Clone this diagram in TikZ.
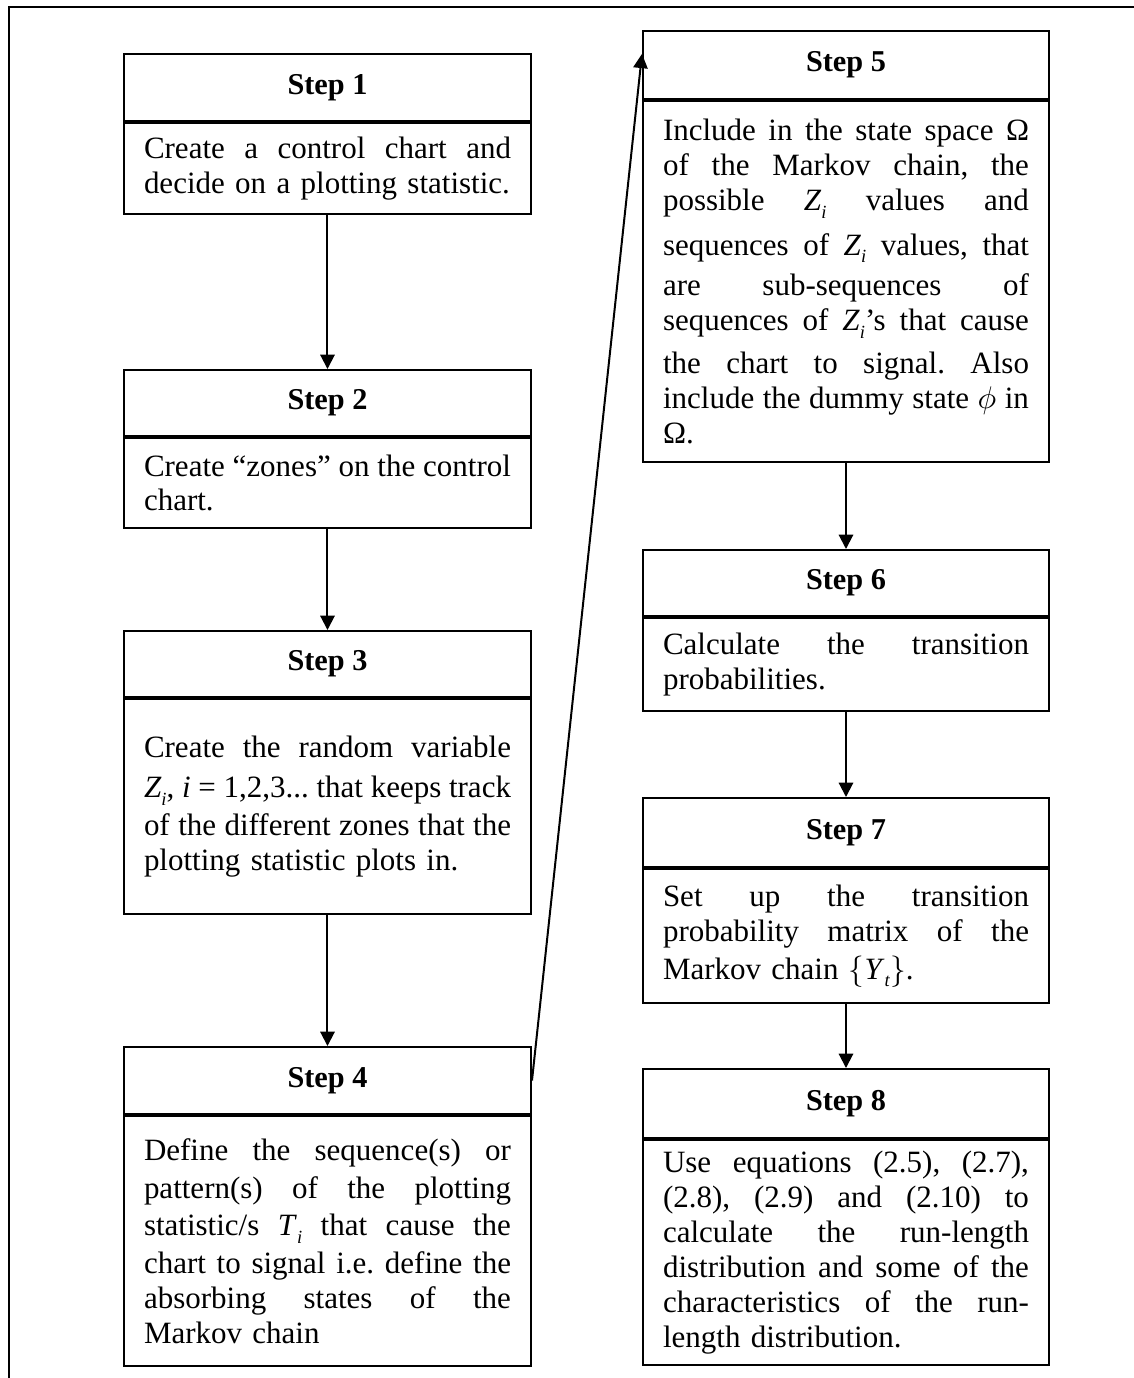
\documentclass[tikz,border=0pt]{standalone}
\usepackage{fontspec}
\setmainfont{Liberation Serif}
\usetikzlibrary{arrows.meta,calc}
\frenchspacing
\newcommand{\jl}[1]{\noindent\hbox to \hsize{\spaceskip=0.25em plus 1em minus 0.06em\relax #1}}
\newcommand{\Zsub}[2]{\textit{#1}\raisebox{-0.55ex}{\fontsize{6.5}{6.5}\selectfont\textit{#2}}}
\begin{document}
\begin{tikzpicture}[x=0.35pt,y=-0.35pt,
  every node/.style={font=\fontsize{10.85}{12.2}\selectfont},
  frame/.style={line width=0.7pt},
  titlebox/.style={draw, line width=0.7pt, minimum width=142.45pt, anchor=north west, inner sep=0pt, font=\fontsize{10.6}{12.2}\selectfont\bfseries},
  bodybox/.style={draw, line width=0.7pt, text width=128.45pt, inner xsep=7pt, inner ysep=1pt, align=left, anchor=north west},
  conn/.style={line width=0.7pt, -{Triangle[length=5pt,width=5pt]}}]
\useasboundingbox (0,0) rectangle (1133,1378);
\draw[frame] (9,1380) -- (9,7) -- (1135,7);
% left column
\node[titlebox, minimum height=23.45pt] (s1t) at (123,53) {Step 1};
\node[bodybox, minimum height=31.85pt] (s1b) at (s1t.south west) {\jl{Create a control chart and}\\decide on a plotting statistic.};
\node[titlebox, minimum height=23.1pt] (s2t) at (123,369) {Step 2};
\node[bodybox, minimum height=31.5pt] (s2b) at (s2t.south west) {\jl{Create “zones” on the control}\\chart.};
\node[titlebox, minimum height=23.1pt] (s3t) at (123,630) {Step 3};
\node[bodybox, minimum height=75.25pt] (s3b) at (s3t.south west) {\jl{Create the random variable}\\[2pt]\jl{\Zsub{Z}{i}, \textit{i} = 1,2,3... that keeps track}\\[1pt]\jl{of the different zones that the}\\plotting statistic plots in.};
\node[titlebox, minimum height=23.45pt] (s4t) at (123,1046) {Step 4};
\node[bodybox, minimum height=87.5pt] (s4b) at (s4t.south west) {\jl{Define the sequence(s) or}\\[1pt]\jl{pattern(s) of the plotting}\\[1pt]\jl{statistic/s \Zsub{T}{i} that cause the}\\[1pt]\jl{chart to signal i.e. define the}\\\jl{absorbing states of the}\\Markov chain};
% right column
\node[titlebox, minimum height=23.8pt, minimum width=142.1pt] (s5t) at (642,30) {Step 5};
\node[bodybox, minimum height=126.35pt, text width=128.1pt] (s5b) at (s5t.south west) {\jl{Include in the state space Ω}\\\jl{of the Markov chain, the}\\\jl{possible \Zsub{Z}{i} values and}\\[3.5pt]\jl{sequences of \Zsub{Z}{i} values, that}\\[2pt]\jl{are sub-sequences of}\\\jl{sequences of \Zsub{Z}{i}’s that cause}\\[3pt]\jl{the chart to signal. Also}\\\jl{include the dummy state $\phi$ in}\\Ω.};
\node[titlebox, minimum height=23.1pt, minimum width=142.1pt] (s6t) at (642,549) {Step 6};
\node[bodybox, minimum height=32.55pt, text width=128.1pt] (s6b) at (s6t.south west) {\jl{Calculate the transition}\\probabilities.};
\node[titlebox, minimum height=24.15pt, minimum width=142.1pt] (s7t) at (642,797) {Step 7};
\node[bodybox, minimum height=46.9pt, text width=128.1pt] (s7b) at (s7t.south west) {\jl{Set up the transition}\\\jl{probability matrix of the}\\[1pt]Markov chain $\bigl\{$\Zsub{Y}{t}$\bigr\}$.};
\node[titlebox, minimum height=24.15pt, minimum width=142.1pt] (s8t) at (642,1068) {Step 8};
\node[bodybox, minimum height=78.75pt, text width=128.1pt] (s8b) at (s8t.south west) {\jl{Use equations (2.5), (2.7),}\\\jl{(2.8), (2.9) and (2.10) to}\\\jl{calculate the run-length}\\\jl{distribution and some of the}\\\jl{characteristics of the run-}\\length distribution.};
% connectors
\draw[conn] (s1b.south) -- (s2t.north);
\draw[conn] (s2b.south) -- (s3t.north);
\draw[conn] (s3b.south) -- (s4t.north);
\draw[conn] (s4t.east) -- ($(s5t.north west)!0.34!(s5t.south west)$);
\draw[conn] (s5b.south) -- (s6t.north);
\draw[conn] (s6b.south) -- (s7t.north);
\draw[conn] (s7b.south) -- (s8t.north);
\end{tikzpicture}
\end{document}
